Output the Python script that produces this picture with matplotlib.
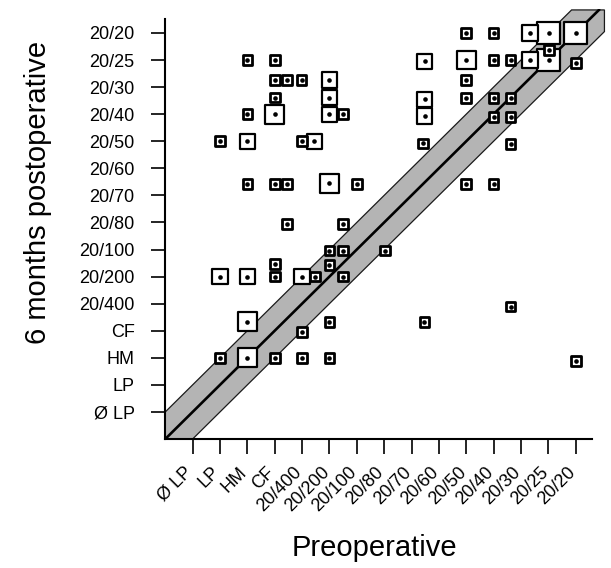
import matplotlib
matplotlib.use('Agg')
import matplotlib.pyplot as plt
from matplotlib.patches import Polygon
from matplotlib.transforms import ScaledTranslation

plt.rcParams['font.family'] = ['Liberation Sans', 'DejaVu Sans']

# Visual acuity categories (positions 1..15)
acuity_labels = ['Ø LP', 'LP', 'HM', 'CF', '20/400', '20/200', '20/100', '20/80',
                 '20/70', '20/60', '20/50', '20/40', '20/30', '20/25', '20/20']

# Preoperative acuity (x), postoperative acuity (y), number of eyes (marker size)
pre = [3, 4, 4, 4.44, 4.98, 6, 4, 6, 3, 4, 6, 6.5, 2, 3, 5, 5.45,
       9.48, 9.48, 9.48, 9.43,
       11, 12, 13.33, 14.02, 15, 14.02, 11, 12, 12.62, 13.33, 14.02, 15,
       11, 11, 12, 12.62, 12, 12.62, 12.62,
       3, 4, 4.44, 6, 7, 11, 12,
       4.44, 6.5, 6, 6.5, 8.03, 4, 6,
       2, 3, 4, 5, 5.47, 6.5,
       12.62, 3, 6, 9.47, 5,
       2, 3, 4, 5, 6, 15]
post = [14, 14, 13.26, 13.26, 13.26, 13.26, 12.61, 12.61, 12, 12, 12, 12, 11, 11, 11, 11,
        13.95, 12.55, 11.93, 10.92,
        15, 15, 15, 15, 15, 14.37, 14, 14, 14, 14, 14, 13.9,
        13.26, 12.59, 12.59, 12.59, 11.9, 11.9, 10.9,
        9.42, 9.42, 9.42, 9.45, 9.42, 9.41, 9.41,
        7.94, 7.94, 6.96, 6.96, 6.96, 6.46, 6.43,
        6, 6, 6, 6, 6, 6,
        4.89, 4.33, 4.33, 4.31, 3.94,
        3, 3, 3, 3, 3, 2.88]
eyes = [1, 1, 1, 1, 1, 2, 1, 2, 1, 3, 2, 1, 1, 2, 1, 2,
        2, 2, 2, 1,
        1, 1, 2, 4, 4, 1, 3, 1, 1, 2, 4, 1,
        1, 1, 1, 1, 1, 1, 1,
        1, 1, 1, 3, 1, 1, 1,
        1, 1, 1, 1, 1, 1, 1,
        2, 2, 1, 2, 1, 1,
        1, 3, 1, 1, 1,
        1, 3, 1, 1, 1, 1]

outer_px = {1: 12.5, 2: 17.5, 3: 21, 4: 25}
edge_px = {1: 2.8, 2: 2.2, 3: 2.2, 4: 2.2}

fig = plt.figure(figsize=(6.11, 5.68), dpi=100)
ax = fig.add_axes([0.2705, 0.2271, 0.721, 0.7578])
ax.set_xlim(0, 16.1)
ax.set_ylim(0, 15.9)

# shaded band (+/- one line) and identity line
top, right = 15.85, 16.05
band = Polygon([(0, 0), (0, 1), (top - 1, top), (right, top), (right, right - 1), (1, 0)],
               closed=True, facecolor='#b4b4b4', edgecolor='#1a1a1a', lw=0.9, zorder=1)
ax.add_patch(band)
ax.plot([0, top], [0, top], color='black', lw=1.9, zorder=2)

# squares sorted so that larger ones are below smaller ones
order = sorted(range(len(pre)), key=lambda i: -eyes[i])
xs = [pre[i] for i in order]
ys = [post[i] for i in order]
ss = [((outer_px[eyes[i]] - edge_px[eyes[i]]) * 0.72) ** 2 for i in order]
lws = [edge_px[eyes[i]] * 0.72 for i in order]
ax.scatter(xs, ys, s=ss, marker='s', facecolors='white', edgecolors='black',
           linewidths=lws, zorder=3)
ax.scatter(xs, ys, s=(4.6 * 0.72) ** 2, marker='o', color='black', zorder=4, linewidths=0)

# axes styling
for side in ['top', 'right']:
    ax.spines[side].set_visible(False)
ax.spines['left'].set_bounds(0, 15.5)
ax.spines['bottom'].set_bounds(0, 15.6)
ax.spines['left'].set_linewidth(1.5)
ax.spines['bottom'].set_linewidth(1.5)

ticks = list(range(1, 16))
ax.set_yticks(ticks)
ax.set_yticklabels(acuity_labels, fontsize=13)
ax.set_xticks(ticks)
ax.set_xticklabels(acuity_labels, fontsize=13, rotation=45, ha='right', va='center',
                   rotation_mode='anchor')
ax.tick_params(axis='y', length=10, width=1.2, pad=12)
ax.tick_params(axis='x', length=11, width=1.2, pad=11)
for lab in ax.get_xticklabels():
    lab.set_transform(lab.get_transform() + ScaledTranslation(-2 / 72, 0, fig.dpi_scale_trans))

ax.set_xlabel('Preoperative', fontsize=21)
ax.xaxis.label.set_va('center')
ax.xaxis.set_label_coords(0.474, -0.253)
ax.set_ylabel('6 months postoperative', fontsize=21)
ax.yaxis.label.set_va('center')
ax.yaxis.set_label_coords(-0.289, 0.574)

fig.savefig('out.png', dpi=100)
